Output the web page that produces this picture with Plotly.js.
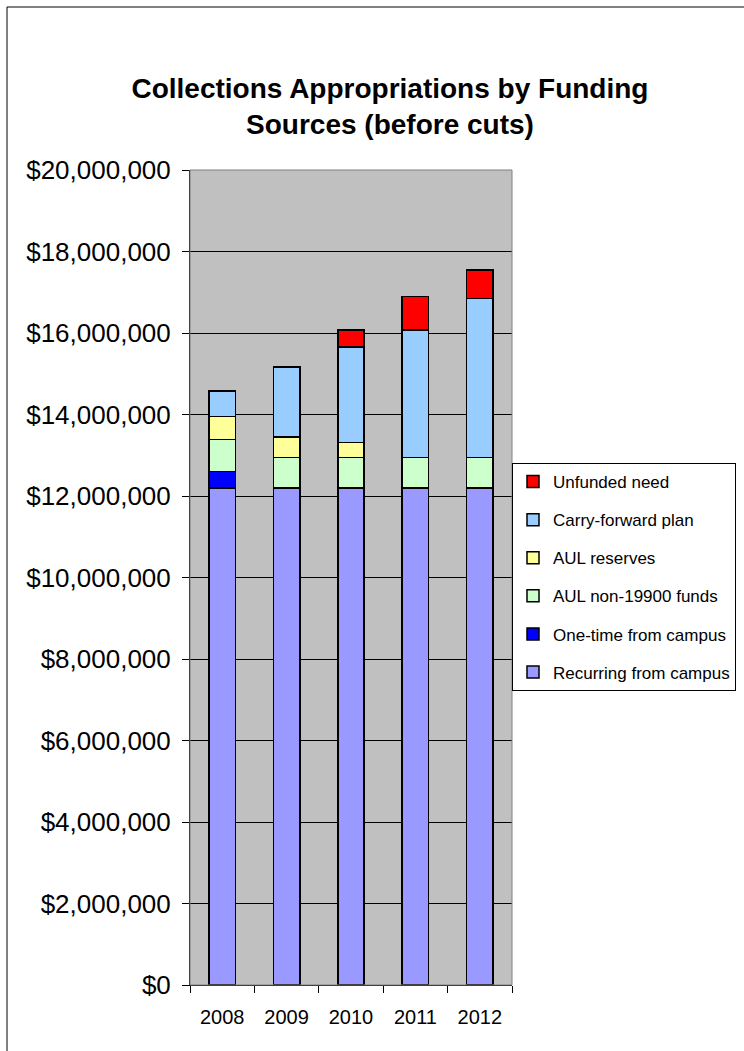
<!DOCTYPE html>
<html>
<head>
<meta charset="utf-8">
<script src="https://cdn.plot.ly/plotly-3.0.1.min.js"></script>
<style>html,body{margin:0;padding:0;background:#fff;}#chart{width:744px;height:1051px;}</style>
</head>
<body>
<div id="chart"></div>
<script>
const years = ['2008', '2009', '2010', '2011', '2012'];
const recurringFromCampus = [12200000, 12200000, 12200000, 12200000, 12200000];
const oneTimeFromCampus = [400000, null, null, null, null];
const aulNon19900Funds = [790000, 740000, 740000, 740000, 740000];
const aulReserves = [560000, 510000, 370000, null, null];
const carryForwardPlan = [630000, 1720000, 2350000, 3130000, 3910000];
const unfundedNeed = [null, null, 410000, 830000, 700000];

const seriesNames = ['Recurring from campus', 'One-time from campus', 'AUL non-19900 funds', 'AUL reserves', 'Carry-forward plan', 'Unfunded need'];
const seriesValues = [recurringFromCampus, oneTimeFromCampus, aulNon19900Funds, aulReserves, carryForwardPlan, unfundedNeed];
const seriesColors = ['#9999FF', '#0000FF', '#CCFFCC', '#FFFF99', '#99CCFF', '#FF0000'];

const traces = seriesNames.map((name, i) => ({
  type: 'bar',
  name: name,
  x: years,
  y: seriesValues[i],
  legendgroup: 'g' + i,
  legendrank: 1000 - i,
  marker: {color: seriesColors[i], line: {color: '#000000', width: 1.5}},
  hoverinfo: 'x+y+name'
}));

const FONT = 'Liberation Sans, Arial, sans-serif';
const layout = {
  width: 744,
  height: 1051,
  margin: {l: 190, r: 232, t: 170, b: 66, pad: 0, autoexpand: false},
  paper_bgcolor: '#FFFFFF',
  plot_bgcolor: '#C0C0C0',
  barmode: 'stack',
  bargap: 0.59,
  font: {family: FONT, color: '#000000'},
  title: {
    text: '<b>Collections Appropriations by Funding<br>Sources (before cuts)</b>',
    font: {family: FONT, size: 28, color: '#000000'},
    xref: 'paper', x: 0.621, xanchor: 'center',
    yref: 'container', y: 1 - 98 / 1051, yanchor: 'top'
  },
  xaxis: {
    type: 'category',
    automargin: false,
    tickson: 'boundaries',
    ticks: 'outside', ticklen: 7, tickcolor: '#000000', tickwidth: 1,
    ticklabelstandoff: 14,
    showline: true, linecolor: '#000000', linewidth: 1,
    tickfont: {family: FONT, size: 20, color: '#000000'},
    showgrid: false
  },
  yaxis: {
    range: [0, 20000000],
    automargin: false,
    dtick: 2000000,
    tick0: 0,
    tickprefix: '$',
    tickformat: ',d',
    ticks: 'outside', ticklen: 7, tickcolor: '#000000', tickwidth: 1,
    ticklabelstandoff: 6,
    showline: true, linecolor: '#000000', linewidth: 1,
    showgrid: true, gridcolor: '#000000', gridwidth: 1,
    zeroline: false,
    tickfont: {family: FONT, size: 26, color: '#000000'}
  },
  legend: {
    x: 1.0, xanchor: 'left',
    y: (985 - 463) / 815, yanchor: 'top',
    bgcolor: '#FFFFFF', bordercolor: '#000000', borderwidth: 1,
    font: {family: FONT, size: 17, color: '#000000'},
    traceorder: 'grouped',
    tracegroupgap: 13
  },
  shapes: [
    {type: 'rect', xref: 'paper', yref: 'paper', x0: 0, x1: 1, y0: 0, y1: 1,
     line: {color: '#808080', width: 1}, layer: 'above'},
    {type: 'rect', xref: 'paper', yref: 'paper', x0: (7 - 190) / 322, x1: 2, y0: -0.2, y1: (985 - 7) / 815,
     line: {color: '#000000', width: 1}, fillcolor: 'rgba(0,0,0,0)', layer: 'above'}
  ]
};

Plotly.newPlot('chart', traces, layout, {displayModeBar: false, staticPlot: true});
</script>
</body>
</html>
